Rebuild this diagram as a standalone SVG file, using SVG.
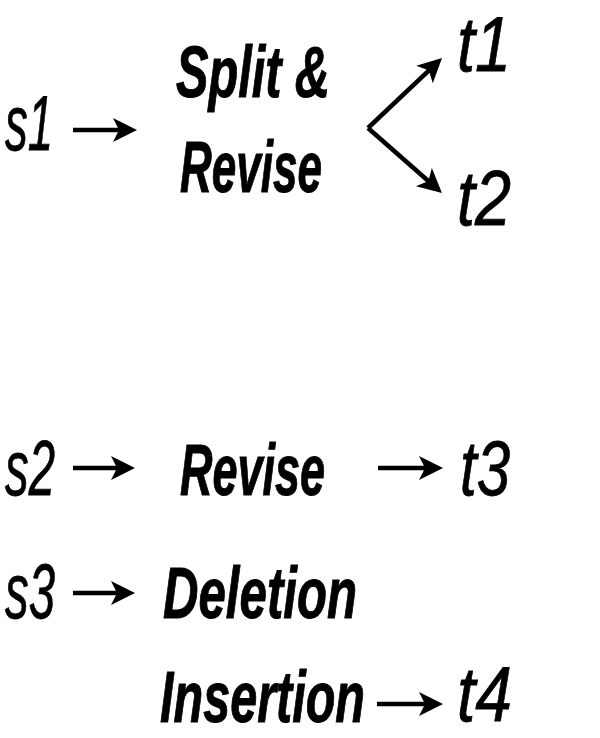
<svg xmlns="http://www.w3.org/2000/svg" width="600" height="738" viewBox="0 0 600 738">
<style>
.lbl{font-family:"Liberation Sans",Arial,sans-serif;font-style:italic;font-size:78px;fill:#000;stroke:#000;stroke-width:0.8}
.op{font-family:"Liberation Sans",Arial,sans-serif;font-style:italic;font-weight:bold;font-size:72px;fill:#000;stroke:#000;stroke-width:1}
.conn{stroke:#000;stroke-width:4.5;fill:none;marker-end:url(#ah)}
</style>
<defs>
<marker id="ah" markerUnits="userSpaceOnUse" viewBox="-15 -13 27 26" refX="0" refY="0" markerWidth="27" markerHeight="26" orient="auto" overflow="visible">
<path d="M11,0 L-13,-12 L-7,0 L-13,12 Z" fill="#000"/>
</marker>
</defs>
<rect width="600" height="738" fill="#fff"/>
<g id="s1"><text class="lbl" x="5" y="150" textLength="48" lengthAdjust="spacingAndGlyphs">s1</text></g>
<g id="split-revise">
<text class="op" x="176" y="97" textLength="154" lengthAdjust="spacingAndGlyphs">Split &amp;</text>
<text class="op" x="180" y="192" textLength="142" lengthAdjust="spacingAndGlyphs">Revise</text>
</g>
<g id="t1"><text class="lbl" x="457" y="71" textLength="54" lengthAdjust="spacingAndGlyphs">t1</text></g>
<g id="t2"><text class="lbl" x="457" y="225" textLength="54" lengthAdjust="spacingAndGlyphs">t2</text></g>
<g id="s2"><text class="lbl" x="5" y="495" textLength="50" lengthAdjust="spacingAndGlyphs">s2</text></g>
<g id="revise"><text class="op" x="180" y="495" textLength="145" lengthAdjust="spacingAndGlyphs">Revise</text></g>
<g id="t3"><text class="lbl" x="460" y="495" textLength="50" lengthAdjust="spacingAndGlyphs">t3</text></g>
<g id="s3"><text class="lbl" x="5" y="618" textLength="50" lengthAdjust="spacingAndGlyphs">s3</text></g>
<g id="deletion"><text class="op" x="163" y="618" textLength="194" lengthAdjust="spacingAndGlyphs">Deletion</text></g>
<g id="insertion"><text class="op" x="160" y="722" textLength="205" lengthAdjust="spacingAndGlyphs">Insertion</text></g>
<g id="t4"><text class="lbl" x="457" y="721" textLength="55" lengthAdjust="spacingAndGlyphs">t4</text></g>
<g id="connectors">
<line class="conn" x1="73" y1="130" x2="126" y2="130"/>
<path class="conn" d="M368,128 L434,65.6"/>
<path class="conn" d="M368,128 L433.7,185.7"/>
<line class="conn" x1="73" y1="468" x2="124" y2="468"/>
<line class="conn" x1="378" y1="468" x2="432" y2="468"/>
<line class="conn" x1="73" y1="593" x2="124" y2="593"/>
<line class="conn" x1="377" y1="704" x2="432" y2="704"/>
</g>
</svg>
